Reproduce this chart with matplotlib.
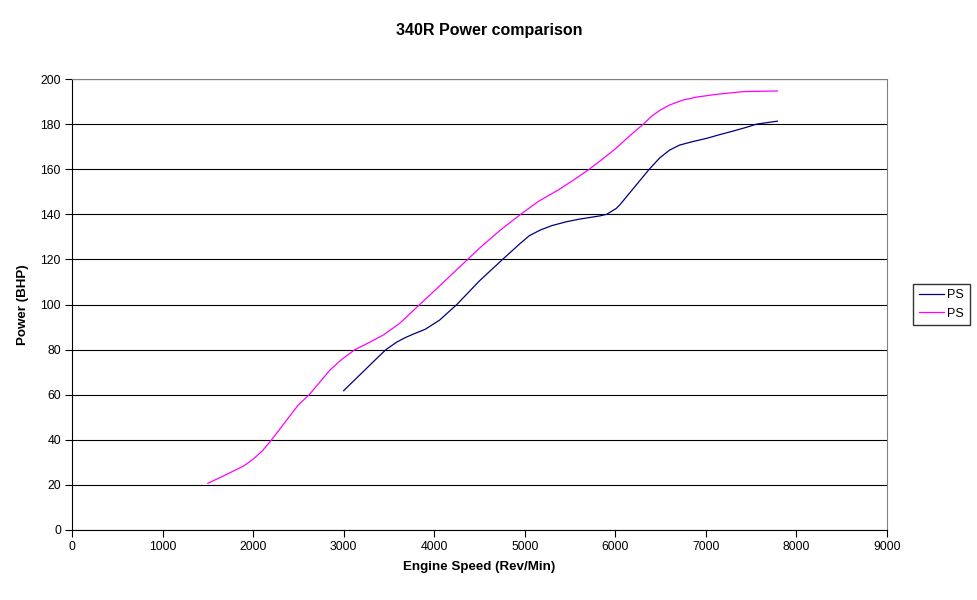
import matplotlib
matplotlib.use("Agg")
import matplotlib.pyplot as plt

plt.rcParams['font.family'] = ['Liberation Sans', 'DejaVu Sans']

# Series 1 (navy)
rpm1 = [3000, 3215, 3350, 3467, 3585, 3680, 3770, 3900, 4060, 4250, 4500, 4755,
        4950, 5050, 5170, 5300, 5460, 5610, 5830, 5905, 6010, 6050, 6200,
        6375, 6490, 6600, 6710, 6850, 7010, 7150, 7300, 7450, 7560, 7790]
ps1 = [61.8, 70.2, 75.5, 80.0, 83.3, 85.3, 86.9, 89.0, 93.1, 100.0, 110.5, 120.0,
       127.1, 130.5, 133.0, 135.0, 136.7, 137.9, 139.3, 140.0, 142.6, 144.2, 151.5,
       160.0, 165.0, 168.5, 170.7, 172.2, 173.7, 175.3, 176.9, 178.6, 180.0, 181.3]

# Series 2 (magenta)
rpm2 = [1500, 1700, 1900, 2000, 2100, 2200, 2300, 2400, 2500, 2620, 2750,
        2850, 2980, 3125, 3250, 3440, 3620, 3840, 4000, 4250, 4370, 4500,
        4730, 4955, 5150, 5370, 5550, 5712, 5830, 6000, 6150, 6310, 6400,
        6500, 6600, 6750, 6900, 7120, 7410, 7790]
ps2 = [20.7, 24.5, 28.5, 31.4, 35.0, 39.8, 45.0, 50.3, 55.5, 60.0, 66.2,
       71.0, 75.7, 80.0, 82.5, 86.5, 91.7, 100.0, 106.0, 115.5, 120.0, 125.0,
       133.0, 140.0, 145.7, 150.8, 155.5, 160.0, 163.6, 169.0, 174.5, 180.0, 183.5,
       186.3, 188.5, 190.7, 192.0, 193.2, 194.4, 194.7]

series_names = ["PS", "PS"]
xticks = list(range(0, 9001, 1000))
yticks = list(range(0, 201, 20))

fig = plt.figure(figsize=(9.77, 6.0), dpi=100)
ax = fig.add_axes([72/977, 70/600, 815/977, 451/600])

ax.plot(rpm1, ps1, color='#000080', lw=0.9, label=series_names[0])
ax.plot(rpm2, ps2, color='#FF00FF', lw=0.9, label=series_names[1])

ax.set_xlim(0, 9000)
ax.set_ylim(0, 200)
ax.set_xticks(xticks)
ax.set_yticks(yticks)
ax.tick_params(axis='both', direction='out', length=5, width=0.8, labelsize=8.8, color='black', pad=3)
ax.yaxis.grid(True, color='black', lw=0.8)
ax.set_axisbelow(True)

for s in ['top', 'right']:
    ax.spines[s].set_color('#808080')
    ax.spines[s].set_linewidth(0.8)
for s in ['left', 'bottom']:
    ax.spines[s].set_color('black')
    ax.spines[s].set_linewidth(0.8)

ax.set_xlabel("Engine Speed (Rev/Min)", fontsize=9.6, fontweight='bold', labelpad=6)
ax.set_ylabel("Power (BHP)", fontsize=9.6, fontweight='bold', labelpad=8)
fig.text(489/977, 1 - 31/600, "340R Power comparison", ha='center', va='center',
         fontsize=11.5, fontweight='bold')

leg = fig.legend(loc='center left', bbox_to_anchor=(913/977, 1 - 304.5/600),
                 frameon=True, fancybox=False, shadow=False, fontsize=9.0,
                 handlelength=2.0, handletextpad=0.3, borderpad=0.45, labelspacing=0.5,
                 borderaxespad=0)
leg.get_frame().set_edgecolor('black')
leg.get_frame().set_linewidth(1)

fig.savefig("out.png", dpi=100)
